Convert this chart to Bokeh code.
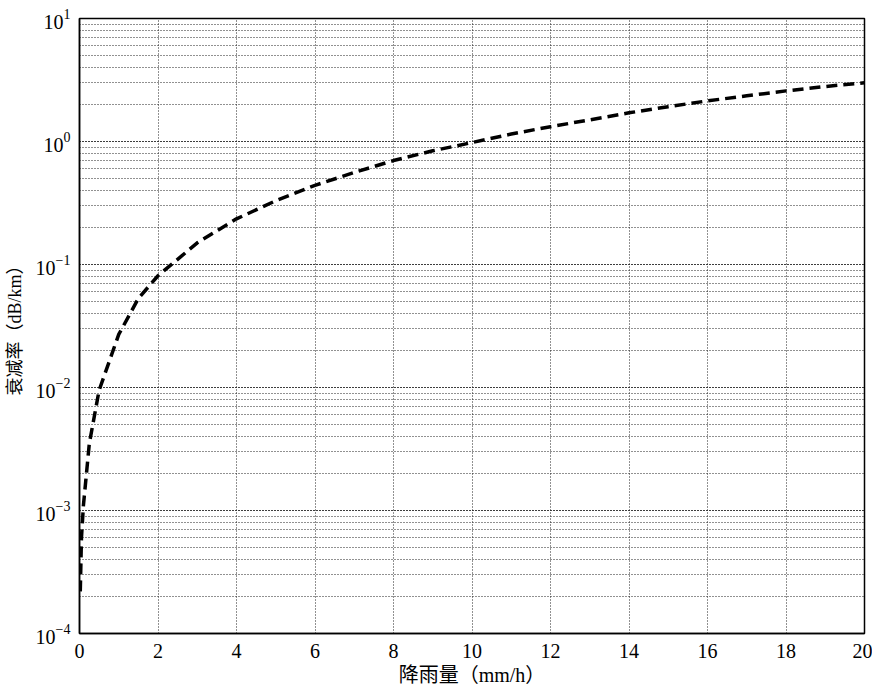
from bokeh.plotting import figure
from bokeh.models import SingleIntervalTicker, LogTicker, Range1d
from bokeh.embed import file_html
from bokeh.resources import INLINE

# Rain rate (mm/h) and attenuation (dB/km)
rain_rate = [0.02, 0.05, 0.1, 0.25, 0.5, 1, 1.5, 2, 3, 4, 5, 6, 7, 8, 9,
             10, 11, 12, 13, 14, 15, 16, 17, 18, 19, 20]
attenuation = [2.2e-4, 6e-4, 1.1e-3, 3.5e-3, 9.5e-3, 0.027, 0.053, 0.081,
               0.15, 0.235, 0.33, 0.44, 0.56, 0.70, 0.84, 0.98, 1.15, 1.32,
               1.50, 1.71, 1.92, 2.14, 2.35, 2.58, 2.80, 3.00]

x_label = "降雨量（mm/h）"
y_label = "衰减率（dB/km）"

FONT = "'Liberation Serif', 'Noto Sans CJK SC'"

p = figure(width=872, height=688, y_axis_type="log",
           x_range=Range1d(0, 20), y_range=Range1d(1e-4, 1e1),
           output_backend="svg", toolbar_location=None,
           min_border_left=79, min_border_top=18, min_border_right=8,
           min_border_bottom=50)

p.line(rain_rate, attenuation, line_color="black", line_width=3.5,
       line_dash="11 6")

p.xaxis.ticker = SingleIntervalTicker(interval=2, num_minor_ticks=0)
p.yaxis.ticker = LogTicker(num_minor_ticks=10, desired_num_ticks=6)

for ax in (p.xaxis[0], p.yaxis[0]):
    ax.major_tick_out = 0
    ax.major_tick_in = 0
    ax.minor_tick_out = 0
    ax.minor_tick_in = 0
    ax.axis_line_color = "black"
    ax.axis_line_width = 1.5
    ax.major_label_text_font = FONT
    ax.major_label_text_font_size = "20px"
    ax.major_label_text_color = "black"
    ax.axis_label_text_font = FONT
    ax.axis_label_text_font_size = "18px"
    ax.axis_label_text_font_style = "normal"
    ax.axis_label_text_color = "black"

p.xaxis.axis_label = x_label
p.yaxis.axis_label = y_label
p.xaxis.axis_label_text_font_size = "20px"
p.xaxis.major_label_standoff = 10
p.xaxis.axis_label_standoff = 3
p.yaxis.major_label_standoff = 9
p.yaxis.axis_label_standoff = 8

for g in (p.xgrid[0], p.ygrid[0]):
    g.grid_line_color = "#222222"
    g.grid_line_dash = "1 2"
    g.grid_line_width = 1
p.ygrid.minor_grid_line_color = "#222222"
p.ygrid.minor_grid_line_dash = "1 2"
p.ygrid.minor_grid_line_width = 1

p.outline_line_color = "black"
p.outline_line_width = 1.5
p.background_fill_color = "white"
p.border_fill_color = "white"

open("out.html", "w").write(file_html(p, INLINE))
